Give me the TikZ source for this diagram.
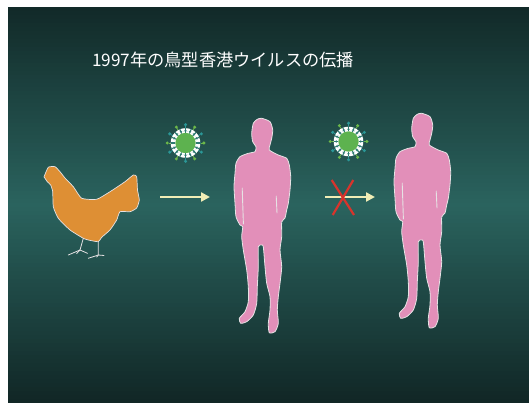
\documentclass[tikz,border=0pt]{standalone}
\usepackage{fontspec}
\newfontfamily\jpfont{Noto Sans CJK JP}
\usetikzlibrary{arrows.meta}

\definecolor{bgtop}{HTML}{122A29}
\definecolor{bgmid}{HTML}{2A635E}
\definecolor{bgbot}{HTML}{112726}
\definecolor{hen}{HTML}{DE8F34}
\definecolor{skin}{HTML}{E28FB9}
\definecolor{rim}{HTML}{E6E2E4}
\definecolor{cream}{HTML}{F1EDB6}
\definecolor{crossred}{HTML}{D8342C}
\definecolor{vgreen}{HTML}{5DB24F}
\definecolor{vdotgreen}{HTML}{6DB84A}
\definecolor{vdotteal}{HTML}{2B9797}
\definecolor{vgap}{HTML}{2E7A72}

\tikzset{
  flow/.style={line width=2.6pt, draw=cream, -{Triangle[length=9pt,width=9pt]}},
  cross/.style={line width=2.2pt, draw=crossred},
  virus/.pic={
    \foreach \a [count=\i] in {0,30,...,330}{
      \pgfmathsetmacro\sel{mod(\i,2)}
      \ifdim\sel pt>0.5pt \def\dc{vdotgreen}\else\def\dc{vdotteal}\fi
      \draw[line width=0.8pt, \dc] (\a:14) -- (\a:17);
      \fill[\dc] (\a:18.3) circle (1.7);
    }
    \fill[white] (0,0) circle (14.8);
    \foreach \a in {0,22.5,...,337.5}
      \draw[line width=1.1pt, vgap] (\a:10.2) -- (\a:15);
    \draw[line width=0.8pt, vgap] (0,0) circle (12.4);
    \foreach \a in {11.25,33.75,...,348.75}
      \draw[line width=2.4pt, white] (\a:11.6) -- (\a:13.2);
    \fill[vgreen] (0,0) circle (10.2);
  },
  person/.pic={
    \fill[skin, draw=rim, line width=0.8pt] plot[smooth cycle, tension=0.4] coordinates {
      (261.7,118.3) (270,121.7) (272.7,130) (271.7,138.3) (270,145) (269.3,150)
      (278.3,155) (286.7,158.3) (289.3,165) (290.7,176.7) (290,190) (288.3,203.3)
      (286.7,210) (285,218) (281.7,222) (281.7,236.7) (280,250) (281.7,266.7)
      (280,283.3) (278.3,296.7) (277.3,310) (278.3,323.3) (275,331.7) (269.3,332.7)
      (268.3,323.3) (270,310) (270,296.7) (266.7,283.3) (265,266.7) (263.3,246.7)
      (261.7,245) (258.3,246.7) (258.3,266.7) (257.3,286.7) (256.7,303.3) (253.3,315)
      (246.7,321.7) (240.7,323.3) (239.3,318.3) (245,311.7) (248.3,301.7) (248.3,286.7)
      (246.7,270) (243.3,250) (241.7,236.7) (242.7,226.7) (240,225) (236,216.7)
      (235,203.3) (234,186.7) (235,173.3) (236,163.3) (240,156.7) (248.3,153.3)
      (255,151.7) (256,146.7) (252.7,141.7) (251.7,133.3) (253.3,123.3) (257.3,119.3)};
    \draw[rim, line width=0.9pt, line cap=round] (242.2,188) -- (243.4,224);
    \draw[rim, line width=0.9pt, line cap=round] (276.2,196) -- (277,213);
  }
}

\begin{document}
\begin{tikzpicture}[x=1pt, y=-1pt]
  \useasboundingbox (0,0) rectangle (529,403);
  \fill[white] (0,0) rectangle (529,403);
  % vertical gradient of the slide, built from thin bands
  \foreach \k in {0,...,98}{
    \pgfmathsetmacro\ya{7+\k*4}
    \pgfmathsetmacro\yb{\ya+4.3}
    \pgfmathtruncatemacro\p{\k<=49 ? round(100*\k/49) : round(100*(98-\k)/49)}
    \ifnum\k<50
      \fill[bgmid!\p!bgtop] (8,\ya) rectangle (529,\yb);
    \else
      \fill[bgmid!\p!bgbot] (8,\ya) rectangle (529,\yb);
    \fi
  }

  % title
  \node[anchor=west, text=white, inner sep=0pt, font=\jpfont\fontsize{17.2}{20}\selectfont]
    (title) at (92,60) {1997年の鳥型香港ウイルスの伝播};

  % hen
  \fill[hen, draw=rim, line width=0.7pt] plot[smooth cycle, tension=0.3] coordinates {
    (44,177) (48.3,167.3) (55,166.7) (60,171.7) (65,178) (73.3,186.7) (81.7,198.3)
    (96.7,199.3) (110,191.7) (125,181.7) (133.3,175) (136.7,176.7) (137.5,190)
    (139.3,200) (136.7,208) (130,211.7) (120,211.7) (116.7,220) (110,230)
    (101.7,237.3) (98.3,241.7) (88.3,240) (83.3,238.3) (70,230) (58.3,218.3)
    (53.3,206.7) (52.7,191.7) (50.7,185) (47.3,181.7) (45,178.3)};
  \begin{scope}[rim, line width=0.8pt, line cap=round]
    \draw (83.3,238.3) -- (80,250) -- (68.3,255);
    \draw (80,250) -- (76.7,253.5);
    \draw (80,250) -- (87.5,253.3);
    \draw (98.3,241.7) -- (98.3,255) -- (88.3,258.3);
    \draw (98.3,255) -- (96.7,257);
    \draw (98.3,255) -- (104,255.5);
  \end{scope}

  % two people
  \pic (man1) at (0,0) {person};
  \pic (man2) at (160,-5) {person};

  % viruses
  \pic (v1) at (185.5,143) {virus};
  \pic (v2) at (348.5,141.5) {virus};

  % transmission arrows
  \coordinate (a1s) at (160,197);
  \coordinate (a1e) at (210,197);
  \coordinate (a2s) at (325,197);
  \coordinate (a2e) at (375,197);
  \draw[flow] (a1s) -- (a1e);
  \draw[flow] (a2s) -- (a2e);

  % blocked route
  \coordinate (x1) at (331.7,180);
  \coordinate (x2) at (354,215);
  \coordinate (x3) at (353.3,180);
  \coordinate (x4) at (332.7,215);
  \draw[cross] (x1) -- (x2);
  \draw[cross] (x3) -- (x4);
\end{tikzpicture}
\end{document}
